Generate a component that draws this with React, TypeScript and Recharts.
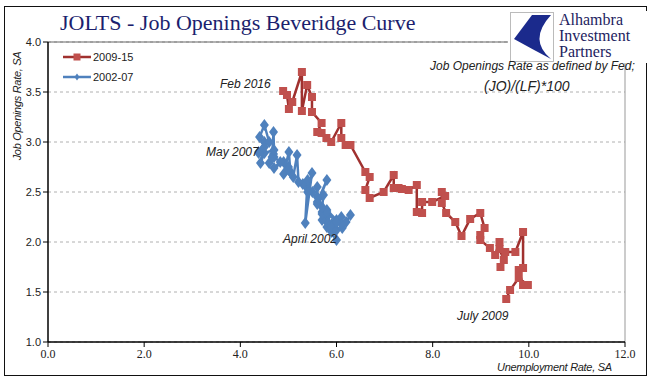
import React from "react";
import {
  ScatterChart,
  Scatter,
  XAxis,
  YAxis,
  CartesianGrid,
  ReferenceLine,
} from "recharts";

// 2009-15: unemployment rate (x) and job openings rate (y), July 2009 -> Feb 2016
const recoveryU = [
  9.53, 9.61, 9.79, 9.98, 9.88, 9.79, 9.88, 9.88, 9.72, 9.51, 9.41, 9.48, 9.39, 9.39, 9.3,
  9.19, 8.99, 8.99, 9.08, 8.99, 8.78, 8.6, 8.47, 8.28, 8.19, 8.19, 8.26, 7.99, 7.78, 7.78,
  7.67, 7.67, 7.5, 7.36, 7.29, 7.19, 7.19, 6.98, 6.69, 6.6, 6.69, 6.6, 6.29, 6.19, 6.1,
  6.1, 5.89, 5.79, 5.69, 5.6, 5.69, 5.49, 5.49, 5.39, 5.28, 5.28, 5.08, 5.01, 4.97, 4.89,
];
const recoveryJO = [
  1.43, 1.52, 1.64, 1.57, 1.57, 1.72, 1.74, 2.1, 1.9, 1.9, 1.75, 1.82, 1.93, 2.0, 1.87,
  1.94, 2.02, 2.07, 2.14, 2.29, 2.23, 2.06, 2.2, 2.29, 2.39, 2.5, 2.46, 2.4, 2.4, 2.29,
  2.3, 2.57, 2.52, 2.53, 2.54, 2.54, 2.67, 2.5, 2.44, 2.52, 2.65, 2.7, 2.97, 2.97, 3.04,
  3.19, 3.0, 3.04, 3.09, 3.1, 3.19, 3.3, 3.45, 3.57, 3.31, 3.7, 3.4, 3.33, 3.47, 3.51,
];

// 2002-07: April 2002 -> May 2007
const expansionU = [
  6.0, 5.8, 5.8, 5.8, 5.7, 5.7, 5.7, 5.9, 6.0, 5.8, 5.9, 5.9, 6.0, 6.12, 6.29, 6.2, 6.1,
  6.1, 6.0, 5.8, 5.7, 5.73, 5.6, 5.8, 5.6, 5.6, 5.6, 5.5, 5.39, 5.35, 5.49, 5.4, 5.4, 5.3,
  5.4, 5.21, 5.18, 5.1, 5.04, 5.01, 4.9, 5.0, 5.0, 5.0, 4.9, 4.7, 4.83, 4.7, 4.69, 4.6,
  4.66, 4.69, 4.7, 4.5, 4.42, 4.5, 4.38, 4.6, 4.5, 4.4, 4.5, 4.38,
];
const expansionJO = [
  2.02, 2.15, 2.25, 2.2, 2.3, 2.22, 2.28, 2.18, 2.22, 2.32, 2.1, 2.15, 2.12, 2.14, 2.27,
  2.2, 2.18, 2.25, 2.2, 2.3, 2.35, 2.47, 2.38, 2.62, 2.4, 2.55, 2.45, 2.5, 2.54, 2.19,
  2.69, 2.5, 2.6, 2.58, 2.62, 2.6, 2.87, 2.65, 2.7, 2.9, 2.68, 2.72, 2.75, 2.73, 2.8, 2.74,
  2.8, 2.85, 2.88, 2.79, 2.85, 3.1, 2.92, 2.89, 2.79, 3.0, 2.9, 3.0, 3.17, 3.05, 2.95, 2.89,
];

const xTicks = [0, 2, 4, 6, 8, 10, 12];
const yTicks = [1, 1.5, 2, 2.5, 3, 3.5, 4];

const recovery = recoveryU.map((u, i) => ({ u, jo: recoveryJO[i] }));
const expansion = expansionU.map((u, i) => ({ u, jo: expansionJO[i] }));

const RED_LINE = "#a0312f";
const RED_MARK = "#c0504d";
const BLUE = "#4f81bd";

const Square = (p: any) => (
  <rect x={p.cx - 4} y={p.cy - 4} width={8} height={8} fill={RED_MARK} />
);

const Diamond = (p: any) => (
  <polygon
    points={`${p.cx},${p.cy - 6} ${p.cx + 4.5},${p.cy} ${p.cx},${p.cy + 6} ${p.cx - 4.5},${p.cy}`}
    fill={BLUE}
  />
);

const italic: React.CSSProperties = {
  position: "absolute",
  fontFamily: "'Liberation Sans', Arial, sans-serif",
  fontStyle: "italic",
  fontSize: 12,
  color: "#222",
  whiteSpace: "nowrap",
  lineHeight: 1,
};

function LegendBox() {
  return (
    <svg width={90} height={36}>
      <line x1={2} y1={7} x2={30} y2={7} stroke={RED_LINE} strokeWidth={2.5} />
      <rect x={12.5} y={3.5} width={7} height={7} fill={RED_MARK} />
      <text x={32} y={11} fontSize={11} fill="#222" fontFamily="'Liberation Sans', Arial">
        2009-15
      </text>
      <line x1={2} y1={27} x2={30} y2={27} stroke={BLUE} strokeWidth={2.5} />
      <polygon points="16,23.5 18.5,27 16,30.5 13.5,27" fill={BLUE} />
      <text x={32} y={31} fontSize={11} fill="#222" fontFamily="'Liberation Sans', Arial">
        2002-07
      </text>
    </svg>
  );
}

export default function App() {
  return (
    <div
      style={{
        position: "absolute",
        left: 0,
        top: 0,
        width: 658,
        height: 392,
        background: "#fff",
        overflow: "hidden",
      }}
    >
      <div
        style={{
          position: "absolute",
          left: 4,
          top: 6,
          width: 641,
          height: 368,
          border: "1.5px solid #111",
        }}
      />
      <ScatterChart
        width={658}
        height={392}
        margin={{ top: 42, right: 33, bottom: 20, left: 0 }}
        style={{ position: "absolute", left: 0, top: 0 }}
      >
        <CartesianGrid vertical={false} stroke="#b0b0b0" strokeDasharray="3 3" />
        <ReferenceLine y={4} stroke="#666" strokeWidth={1} />
        <ReferenceLine x={12} stroke="#999" strokeWidth={1} />
        <XAxis
          type="number"
          dataKey="u"
          domain={[0, 12]}
          ticks={xTicks}
          height={30}
          tickFormatter={(v: number) => v.toFixed(1)}
          axisLine={{ stroke: "#000", strokeWidth: 1.5 }}
          tickLine={{ stroke: "#000" }}
          tickSize={5}
          tick={{ fontSize: 12, fill: "#222", fontFamily: "'Liberation Serif', serif" }}
        />
        <YAxis
          type="number"
          dataKey="jo"
          domain={[1, 4]}
          ticks={yTicks}
          width={48}
          tickFormatter={(v: number) => v.toFixed(1)}
          axisLine={{ stroke: "#000", strokeWidth: 1.5 }}
          tickLine={{ stroke: "#000" }}
          tickSize={5}
          tick={{ fontSize: 11, fill: "#222", fontFamily: "'Liberation Sans', Arial" }}
        />
        <Scatter
          name="2009-15"
          data={recovery}
          line={{ stroke: RED_LINE, strokeWidth: 2.5 }}
          shape={Square}
          isAnimationActive={false}
        />
        <Scatter
          name="2002-07"
          data={expansion}
          line={{ stroke: BLUE, strokeWidth: 2.5 }}
          shape={Diamond}
          isAnimationActive={false}
        />
      </ScatterChart>

      <div style={{ position: "absolute", left: 61, top: 50 }}>
        <LegendBox />
      </div>

      {/* title */}
      <div
        style={{
          position: "absolute",
          left: 60,
          top: 10,
          fontFamily: "'Liberation Serif', 'Times New Roman', serif",
          fontSize: 22,
          color: "#1c1f6e",
          whiteSpace: "nowrap",
          lineHeight: 1.2,
        }}
      >
        JOLTS - Job Openings Beveridge Curve
      </div>

      {/* logo */}
      <div
        style={{
          position: "absolute",
          left: 508,
          top: 11,
          width: 140,
          height: 52,
          background: "#fff",
        }}
      >
        <svg width={46} height={52} style={{ position: "absolute", left: 2, top: 1 }}>
          <rect x={0.5} y={0.5} width={43} height={49} fill="#fff" stroke="#bbb" />
          <path d="M41 3 L22 3 L4 27 Q22 37 41 47 Q18 28 41 3 Z" fill="#1b2a8c" />
        </svg>
        <div
          style={{
            position: "absolute",
            left: 51,
            top: 1,
            fontFamily: "'Liberation Serif', 'Times New Roman', serif",
            fontSize: 16,
            lineHeight: "16px",
            color: "#1c2260",
          }}
        >
          Alhambra
          <br />
          Investment
          <br />
          Partners
        </div>
      </div>

      {/* annotations */}
      <div style={{ ...italic, left: 430, top: 60 }}>Job Openings Rate as defined by Fed;</div>
      <div style={{ ...italic, left: 484, top: 79, fontSize: 14 }}>(JO)/(LF)*100</div>
      <div style={{ ...italic, left: 220, top: 78 }}>Feb 2016</div>
      <div style={{ ...italic, left: 206, top: 146 }}>May 2007</div>
      <div style={{ ...italic, left: 283, top: 233 }}>April 2002</div>
      <div style={{ ...italic, left: 457, top: 310 }}>July 2009</div>

      {/* axis titles */}
      <div style={{ ...italic, left: 497, top: 362, fontSize: 11, letterSpacing: -0.3 }}>
        Unemployment Rate, SA
      </div>
      <div
        style={{
          ...italic,
          fontSize: 11,
          letterSpacing: -0.3,
          left: 17,
          top: 106,
          transform: "translate(-50%, -50%) rotate(-90deg)",
        }}
      >
        Job Openings Rate, SA
      </div>
    </div>
  );
}
